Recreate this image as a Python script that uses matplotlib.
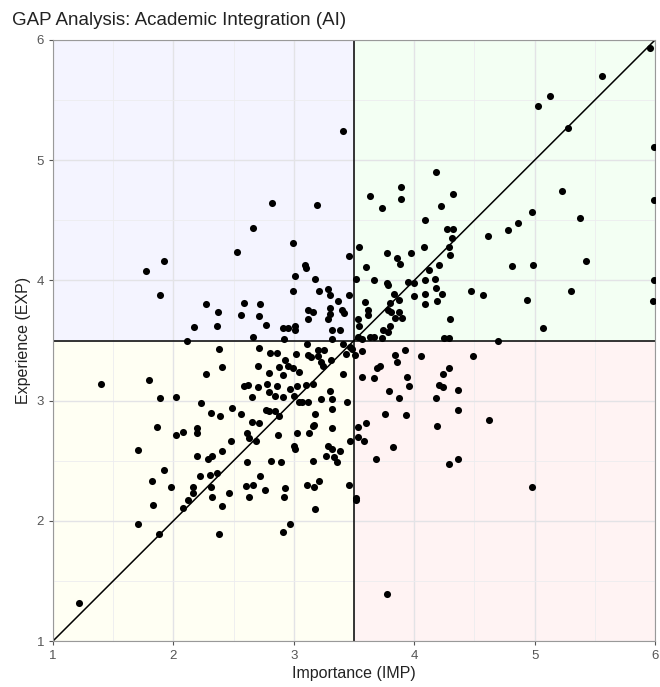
import matplotlib
matplotlib.use("Agg")
import matplotlib.pyplot as plt
from matplotlib.patches import Rectangle
import numpy as np

plt.rcParams['font.family'] = ['Liberation Sans', 'DejaVu Sans']

title = "GAP Analysis: Academic Integration (AI)"
x_label = "Importance (IMP)"
y_label = "Experience (EXP)"
ticks = [1, 2, 3, 4, 5, 6]
threshold = 3.5

imp = [2.66, 2.99, 3.41, 2.82, 3.19, 3.63, 3.73, 3.89, 3.89, 4.18, 4.32, 4.22, 4.09, 4.27, 4.32, 4.31,
       5.96, 5.56, 5.13, 5.03, 5.28, 5.99, 5.23, 5.99, 4.98, 5.38, 4.86, 4.78, 4.61,
       2.53, 1.92, 1.77, 1.89, 2.59, 2.27, 2.37, 2.56, 2.17, 2.36, 2.11, 2.66, 2.38, 2.40, 2.27, 1.40,
       1.80, 2.59, 2.62, 2.65, 1.89, 2.02, 2.23, 2.31, 2.39, 2.49, 2.56, 2.65, 1.86, 2.02, 2.08, 2.20,
       2.20, 2.48, 2.61, 2.63,
       1.71, 2.20, 2.29, 2.32, 2.40, 2.61, 1.92, 2.30, 2.36, 2.22, 1.82, 1.98, 2.16, 2.31, 2.60, 2.66,
       2.16, 2.46, 2.63, 2.32, 2.12, 2.08, 1.83, 2.40, 1.71, 1.88, 2.38, 1.22,
       2.69, 3.00, 3.01, 3.28, 3.32, 3.38, 3.27, 3.33, 3.36, 2.81, 2.89, 3.16, 3.47, 3.58, 3.82, 3.68,
       4.29, 4.36, 2.72, 2.76, 2.93, 2.92, 3.11, 3.17, 3.21, 3.46, 3.52, 3.52, 3.18, 2.97, 2.91, 3.77,
       4.98,
       4.81, 4.99, 5.43, 5.99, 4.47, 4.57, 4.94, 5.30, 5.98, 5.07, 4.70, 4.49, 4.36, 4.36, 4.62,
       3.54, 3.77, 3.86, 3.97, 4.08, 4.29, 4.30, 3.88, 3.46, 3.09, 3.10, 3.01, 3.60, 4.12, 4.21, 3.18,
       2.99, 3.21, 3.28, 3.30, 3.37, 3.46, 3.52, 3.67, 3.77, 3.78, 3.95, 4.00, 4.09, 4.17, 4.18, 4.23,
       4.19, 4.09, 4.00, 4.09, 3.83, 3.87, 3.80, 3.59, 3.62, 3.62, 3.78, 3.81, 3.87, 3.90, 3.84, 4.30,
       3.53, 3.54, 3.74, 3.80, 3.78, 2.72, 2.71, 2.77, 2.91, 2.95, 3.01, 3.01, 3.12, 3.16, 3.12, 3.28,
       3.30, 3.30, 3.40, 3.42, 3.32, 3.38, 2.92, 3.32, 3.41, 3.47, 3.48, 3.53, 3.57, 3.63, 3.67, 3.73,
       4.25, 4.29, 3.51, 3.57, 2.71, 2.80, 2.86, 2.70, 2.79, 2.88, 2.93, 2.95, 2.99, 3.02, 3.11, 3.12,
       3.14, 3.20, 3.25, 3.20, 3.23, 3.24, 3.31, 3.43, 3.41, 3.04, 2.91, 2.70, 2.78, 2.79, 2.86, 2.91,
       2.84, 2.97, 3.03, 3.10, 3.16, 3.00, 3.04, 3.07, 3.12, 3.23, 3.30, 3.32, 3.32, 3.44, 3.18, 3.32,
       2.77, 2.79, 2.84, 2.88, 2.71, 2.87, 3.03, 3.13, 3.16, 3.17, 3.53, 3.60, 3.53, 3.84, 3.86, 3.92,
       4.06, 3.69, 3.72, 3.67, 3.57, 3.94, 3.96, 3.79, 3.87, 4.21, 4.24, 4.24, 4.29, 4.18, 3.76, 3.93,
       4.19]

exp = [4.44, 4.31, 5.24, 4.64, 4.63, 4.70, 4.60, 4.78, 4.68, 4.90, 4.72, 4.62, 4.50, 4.43, 4.43, 4.35,
       5.93, 5.70, 5.53, 5.45, 5.27, 5.11, 4.74, 4.67, 4.57, 4.52, 4.48, 4.42, 4.37,
       4.24, 4.16, 4.08, 3.88, 3.81, 3.80, 3.74, 3.71, 3.61, 3.62, 3.50, 3.53, 3.43, 3.28, 3.22, 3.14,
       3.17, 3.12, 3.13, 3.03, 3.02, 3.03, 2.98, 2.90, 2.87, 2.94, 2.89, 2.82, 2.78, 2.71, 2.74, 2.77,
       2.73, 2.66, 2.73, 2.69,
       2.59, 2.54, 2.51, 2.54, 2.58, 2.49, 2.42, 2.38, 2.40, 2.37, 2.33, 2.28, 2.28, 2.28, 2.29, 2.30,
       2.23, 2.23, 2.20, 2.20, 2.17, 2.11, 2.13, 2.12, 1.97, 1.89, 1.89, 1.32,
       2.66, 2.62, 2.60, 2.62, 2.60, 2.58, 2.54, 2.53, 2.49, 2.50, 2.49, 2.50, 2.66, 2.66, 2.61, 2.51,
       2.47, 2.51, 2.37, 2.26, 2.27, 2.20, 2.30, 2.28, 2.33, 2.30, 2.19, 2.17, 2.10, 1.97, 1.91, 1.39,
       2.28,
       4.12, 4.13, 4.16, 4.00, 3.91, 3.88, 3.84, 3.91, 3.83, 3.60, 3.50, 3.37, 3.09, 2.92, 2.84,
       4.28, 4.23, 4.19, 4.23, 4.28, 4.28, 4.21, 4.14, 4.20, 4.13, 4.10, 4.04, 4.11, 4.09, 4.13, 4.01,
       3.91, 3.91, 3.93, 3.88, 3.83, 3.88, 4.01, 4.00, 3.98, 3.96, 3.99, 3.98, 4.00, 4.01, 3.94, 3.89,
       3.83, 3.89, 3.87, 3.80, 3.89, 3.84, 3.81, 3.82, 3.75, 3.71, 3.75, 3.74, 3.74, 3.69, 3.69, 3.68,
       3.68, 3.62, 3.59, 3.62, 3.57, 3.80, 3.70, 3.63, 3.60, 3.60, 3.62, 3.59, 3.75, 3.74, 3.68, 3.68,
       3.72, 3.77, 3.75, 3.73, 3.59, 3.59, 3.51, 3.51, 3.47, 3.45, 3.43, 3.53, 3.51, 3.53, 3.53, 3.52,
       3.52, 3.52, 3.38, 3.41, 3.44, 3.40, 3.40, 3.29, 3.23, 3.28, 3.34, 3.29, 3.27, 3.39, 3.47, 3.38,
       3.36, 3.42, 3.42, 3.37, 3.32, 3.29, 3.34, 3.39, 3.22, 3.24, 3.21, 3.11, 3.14, 3.07, 3.12, 3.03,
       3.04, 3.10, 3.12, 3.13, 3.14, 3.04, 2.99, 2.99, 2.99, 3.01, 3.08, 3.01, 2.93, 2.99, 2.89, 2.77,
       2.92, 2.91, 2.91, 2.87, 2.81, 2.71, 2.73, 2.73, 2.79, 2.80, 2.78, 2.81, 2.70, 3.38, 3.32, 3.42,
       3.37, 3.27, 3.29, 3.19, 3.20, 3.20, 3.12, 3.08, 3.02, 3.13, 3.11, 3.22, 3.27, 3.02, 2.89, 2.88,
       2.79]

quad_colors = {"tl": "#f4f4ff", "tr": "#f3fff3", "bl": "#fffff3", "br": "#fff3f3"}

fig = plt.figure(figsize=(6.6, 6.87), dpi=100)
ax = fig.add_axes([53/660, 1-641/687, 602/660, 601/687])

lo, hi = ticks[0], ticks[-1]
ax.add_patch(Rectangle((lo, threshold), threshold-lo, hi-threshold, color=quad_colors["tl"], zorder=0, lw=0))
ax.add_patch(Rectangle((threshold, threshold), hi-threshold, hi-threshold, color=quad_colors["tr"], zorder=0, lw=0))
ax.add_patch(Rectangle((lo, lo), threshold-lo, threshold-lo, color=quad_colors["bl"], zorder=0, lw=0))
ax.add_patch(Rectangle((threshold, lo), hi-threshold, threshold-lo, color=quad_colors["br"], zorder=0, lw=0))

ax.set_xlim(lo, hi)
ax.set_ylim(lo, hi)
ax.set_xticks(ticks)
ax.set_yticks(ticks)
ax.set_xticks(np.arange(lo + 0.5, hi, 1.0), minor=True)
ax.set_yticks(np.arange(lo + 0.5, hi, 1.0), minor=True)
ax.grid(True, which='major', color='#e3e3e6', lw=1.0, zorder=0.5)
ax.grid(True, which='minor', color='#ececef', lw=0.6, zorder=0.5)
ax.set_axisbelow(True)

ax.axvline(threshold, color='black', lw=1.1, zorder=2)
ax.axhline(threshold, color='black', lw=1.1, zorder=2)
ax.plot([lo, hi], [lo, hi], color='black', lw=1.1, zorder=2)

ax.scatter(imp, exp, s=26, color='black', zorder=3, linewidths=0)

for s in ax.spines.values():
    s.set_color('#999999')
    s.set_linewidth(0.8)
ax.tick_params(which='major', length=3, color='#555555', labelcolor='#555555', labelsize=9.5, width=0.8)
ax.tick_params(which='minor', length=0)

ax.set_xlabel(x_label, fontsize=11.5, color='#222222', labelpad=3)
ax.set_ylabel(y_label, fontsize=11.5, color='#222222', labelpad=4)
fig.text(12/660, 1-25/687, title, fontsize=13.5, color='#222222', ha='left', va='baseline')

fig.savefig("out.png", dpi=100)
